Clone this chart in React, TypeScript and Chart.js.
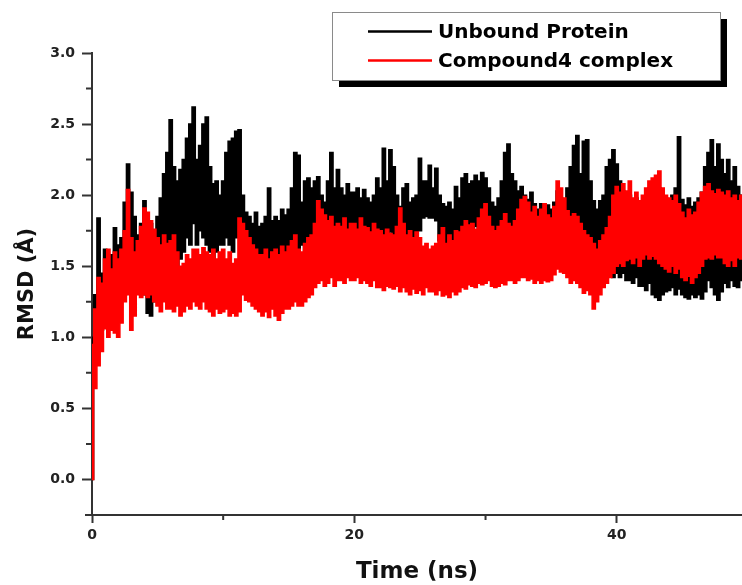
import React, { useEffect, useRef } from "react";
import { Chart, registerables } from "chart.js";

Chart.register(...registerables);

// ---- Data (envelope of each trajectory every 0.25 ns) ----
const SERIES_LABELS = ["Unbound Protein", "Compound4 complex"];
const SERIES_COLORS = ["#000000", "#ff0000"];
const TIME_STEP_NS = 0.25;

const X_TICK_STEP = 20;
const X_MINOR_TICKS = [10, 30, 50];
const Y_TICK_STEP = 0.5;
const Y_MINOR_TICKS = [0.25, 0.75, 1.25, 1.75, 2.25, 2.75];

// Unbound protein RMSD: upper / lower envelope (Å)
const UNBOUND_MAX = [
  1.0, 1.3, 1.84, 1.45, 1.62, 1.52, 1.58, 1.77, 1.65, 1.7, 1.95, 2.22, 2.02, 1.85, 1.72, 1.8, 1.96, 1.82, 1.8, 1.75,
  1.85, 1.98, 2.15, 2.3, 2.53, 2.2, 2.1, 2.18, 2.25, 2.4, 2.5, 2.62, 2.25, 2.35, 2.5, 2.55, 2.2, 2.08, 2.1, 2.0,
  2.1, 2.3, 2.38, 2.4, 2.45, 2.46, 2.0, 1.88, 1.85, 1.8, 1.88, 1.78, 1.8, 1.85, 2.05, 1.82, 1.85, 1.82, 1.9, 1.86,
  1.9, 2.05, 2.3, 2.28, 1.95, 2.1, 2.12, 2.05, 2.1, 2.13, 2.0, 1.95, 2.1, 2.3, 2.05, 2.18, 2.05, 2.0, 2.08, 2.02,
  2.02, 2.05, 1.98, 2.04, 1.98, 1.95, 2.0, 2.12, 2.05, 2.33, 2.1, 2.32, 2.2, 2.0, 1.92, 2.05, 2.08, 1.95, 1.98, 2.0,
  2.26, 2.1, 2.1, 2.21, 2.05, 2.19, 2.0, 1.94, 1.92, 1.95, 1.9, 2.06, 1.98, 2.12, 2.15, 2.08, 2.1, 2.14, 2.1, 2.16,
  2.12, 2.05, 1.95, 1.92, 1.98, 2.1, 2.3, 2.36, 2.15, 2.1, 2.03, 2.06, 2.0, 1.97, 2.02, 1.94, 1.9, 1.94, 1.89, 1.93,
  1.9, 1.95, 2.03, 1.98, 1.95, 2.05, 2.2, 2.35, 2.42, 2.15, 2.38, 2.39, 2.1, 1.96, 1.9, 1.96, 2.0, 2.2, 2.25, 2.32,
  2.22, 2.1, 2.03, 1.98, 2.0, 1.95, 1.98, 1.92, 1.95, 1.9, 1.96, 1.92, 2.0, 2.05, 1.95, 1.98, 1.95, 2.0, 2.05, 2.41,
  1.97, 1.93, 1.98, 1.92, 1.95, 1.98, 2.02, 2.2, 2.3, 2.39, 2.2, 2.36, 2.25, 2.15, 2.25, 2.1, 2.2, 2.06, 2.0, 2.05,
];
const UNBOUND_MIN = [
  0.0, 0.95, 1.05, 1.05, 1.1, 1.15, 1.2, 1.35, 1.3, 1.35, 1.3, 1.35, 1.35, 1.3, 1.4, 1.3, 1.3, 1.17, 1.15, 1.25,
  1.4, 1.5, 1.55, 1.55, 1.6, 1.55, 1.45, 1.55, 1.6, 1.7, 1.65, 1.8, 1.65, 1.75, 1.7, 1.65, 1.6, 1.55, 1.6, 1.65,
  1.65, 1.7, 1.65, 1.6, 1.7, 1.75, 1.55, 1.5, 1.45, 1.5, 1.42, 1.48, 1.45, 1.42, 1.5, 1.48, 1.5, 1.52, 1.48, 1.55,
  1.55, 1.6, 1.65, 1.6, 1.65, 1.6, 1.7, 1.65, 1.6, 1.65, 1.7, 1.68, 1.7, 1.65, 1.72, 1.68, 1.7, 1.75, 1.72, 1.7,
  1.72, 1.75, 1.7, 1.74, 1.72, 1.7, 1.68, 1.72, 1.7, 1.72, 1.68, 1.74, 1.72, 1.7, 1.74, 1.68, 1.7, 1.72, 1.68, 1.72,
  1.75, 1.84, 1.85, 1.84, 1.84, 1.82, 1.68, 1.65, 1.66, 1.64, 1.68, 1.65, 1.7, 1.75, 1.72, 1.78, 1.75, 1.78, 1.74, 1.76,
  1.72, 1.75, 1.7, 1.68, 1.72, 1.7, 1.74, 1.78, 1.75, 1.72, 1.7, 1.74, 1.72, 1.7, 1.68, 1.66, 1.65, 1.64, 1.66, 1.63,
  1.64, 1.66, 1.7, 1.68, 1.62, 1.6, 1.64, 1.62, 1.62, 1.6, 1.59, 1.62, 1.6, 1.58, 1.56, 1.58, 1.58, 1.55, 1.5, 1.42,
  1.45, 1.42, 1.45, 1.4, 1.4, 1.38, 1.42, 1.36, 1.36, 1.33, 1.38, 1.3, 1.28, 1.26, 1.3, 1.32, 1.33, 1.35, 1.3, 1.34,
  1.3, 1.28, 1.27, 1.3, 1.28, 1.3, 1.27, 1.32, 1.4, 1.35, 1.3, 1.26, 1.32, 1.38, 1.35, 1.4, 1.36, 1.35, 1.4, 1.38,
];

// Compound4 complex RMSD: upper / lower envelope (Å)
const COMPLEX_MAX = [
  0.95, 1.2, 1.42, 1.38, 1.55, 1.62, 1.48, 1.6, 1.55, 1.62, 1.75, 2.04, 1.7, 1.6, 1.68, 1.78, 1.91, 1.88, 1.82, 1.76,
  1.7, 1.65, 1.72, 1.66, 1.68, 1.72, 1.6, 1.5, 1.52, 1.58, 1.55, 1.62, 1.62, 1.58, 1.63, 1.6, 1.58, 1.62, 1.55, 1.6,
  1.62, 1.55, 1.6, 1.52, 1.55, 1.84, 1.8, 1.75, 1.7, 1.65, 1.62, 1.58, 1.58, 1.62, 1.55, 1.6, 1.62, 1.58, 1.64, 1.6,
  1.64, 1.68, 1.72, 1.62, 1.6, 1.66, 1.7, 1.72, 1.8, 1.96, 1.9, 1.86, 1.82, 1.85, 1.78, 1.8, 1.78, 1.84, 1.76, 1.8,
  1.8, 1.76, 1.84, 1.78, 1.77, 1.74, 1.8, 1.76, 1.75, 1.72, 1.76, 1.73, 1.72, 1.78, 1.91, 1.8, 1.72, 1.75, 1.7, 1.74,
  1.7, 1.64, 1.66, 1.62, 1.64, 1.66, 1.72, 1.77, 1.66, 1.72, 1.68, 1.75, 1.74, 1.78, 1.82, 1.79, 1.8, 1.76, 1.84, 1.9,
  1.94, 1.85, 1.78, 1.75, 1.78, 1.82, 1.87, 1.8, 1.78, 1.82, 1.9, 1.97, 1.99, 1.95, 1.88, 1.92, 1.85, 1.9, 1.94, 1.86,
  1.84, 1.92, 2.1, 2.05, 1.98, 1.89, 1.85, 1.87, 1.85, 1.8, 1.75, 1.72, 1.7, 1.66, 1.62, 1.68, 1.72, 1.77, 1.85, 2.0,
  2.06, 2.02, 2.08, 2.03, 2.1, 1.98, 2.02, 1.96, 2.0, 2.05, 2.1, 2.12, 2.14, 2.17, 2.05, 2.0, 1.98, 1.96, 2.0, 1.94,
  1.88, 1.84, 1.9, 1.86, 1.88, 1.95, 2.02, 2.06, 2.08, 2.03, 2.01, 2.04, 2.02, 2.0, 2.03, 1.98, 2.0, 1.96, 2.0, 1.98,
];
const COMPLEX_MIN = [
  0.0, 0.64, 0.8, 0.9, 1.06, 1.0, 1.05, 1.03, 1.0, 1.1, 1.25, 1.3, 1.05, 1.15, 1.3, 1.28, 1.3, 1.28, 1.3, 1.25,
  1.22, 1.18, 1.25, 1.2, 1.2, 1.18, 1.22, 1.15, 1.18, 1.22, 1.2, 1.25, 1.22, 1.2, 1.25, 1.2, 1.18, 1.15, 1.2, 1.17,
  1.18, 1.2, 1.15, 1.17, 1.15, 1.18, 1.3, 1.26, 1.25, 1.22, 1.2, 1.18, 1.15, 1.18, 1.14, 1.2, 1.15, 1.12, 1.17, 1.2,
  1.2, 1.22, 1.25, 1.22, 1.22, 1.25, 1.28, 1.3, 1.35, 1.38, 1.4, 1.36, 1.38, 1.42, 1.36, 1.4, 1.4, 1.38, 1.42, 1.4,
  1.4, 1.42, 1.38, 1.4, 1.38, 1.36, 1.4, 1.35, 1.35, 1.33, 1.36, 1.35, 1.34, 1.36, 1.32, 1.35, 1.32, 1.3, 1.34, 1.31,
  1.33, 1.3, 1.35, 1.32, 1.32, 1.3, 1.33, 1.29, 1.3, 1.28, 1.32, 1.3, 1.32, 1.35, 1.34, 1.37, 1.36, 1.35, 1.38, 1.37,
  1.38, 1.4, 1.36, 1.35, 1.36, 1.38, 1.37, 1.4, 1.4, 1.38, 1.4, 1.42, 1.42, 1.4, 1.41, 1.38, 1.4, 1.38, 1.4, 1.39,
  1.4, 1.44, 1.48, 1.46, 1.45, 1.42, 1.38, 1.4, 1.38, 1.35, 1.31, 1.33, 1.3, 1.2, 1.25, 1.3, 1.35, 1.38, 1.42, 1.45,
  1.5, 1.52, 1.5, 1.54, 1.55, 1.52, 1.56, 1.5, 1.55, 1.58, 1.55, 1.57, 1.55, 1.52, 1.5, 1.48, 1.46, 1.5, 1.45, 1.48,
  1.42, 1.4, 1.43, 1.38, 1.42, 1.45, 1.5, 1.55, 1.56, 1.55, 1.58, 1.56, 1.56, 1.52, 1.5, 1.54, 1.5, 1.56, 1.55, 1.52,
];

const TIME_NS = UNBOUND_MAX.map((_, i) => i * TIME_STEP_NS);

const AXIS_COLOR = "#333333";
const FONT_FAMILY = "'DejaVu Sans', 'Liberation Sans', Arial, sans-serif";

const toPoints = (values: number[]) => values.map((v, i) => ({ x: TIME_NS[i], y: v }));

const axisDecorPlugin = {
  id: "axisDecor",
  afterDraw(chart: any) {
    const { ctx, chartArea, scales } = chart;
    const xs = scales.x;
    const ys = scales.y;
    ctx.save();
    ctx.strokeStyle = AXIS_COLOR;
    ctx.lineWidth = 2;
    ctx.beginPath();
    for (const v of Y_MINOR_TICKS) {
      const py = ys.getPixelForValue(v);
      ctx.moveTo(chartArea.left - 6, py);
      ctx.lineTo(chartArea.left, py);
    }
    for (const v of X_MINOR_TICKS) {
      if (v > xs.max) continue;
      const px = xs.getPixelForValue(v);
      ctx.moveTo(px, chartArea.bottom);
      ctx.lineTo(px, chartArea.bottom + 5);
    }
    ctx.moveTo(chartArea.left - 7, chartArea.bottom);
    ctx.lineTo(chartArea.left, chartArea.bottom);
    ctx.stroke();
    ctx.restore();
  },
};

const boxedLegendPlugin = {
  id: "boxedLegend",
  afterDraw(chart: any) {
    const { ctx } = chart;
    const left = 332;
    const top = 12;
    const width = 388;
    const height = 68;
    const shadow = 7;
    ctx.save();
    ctx.fillStyle = "#000000";
    ctx.fillRect(left + shadow, top + shadow, width, height);
    ctx.fillStyle = "#ffffff";
    ctx.fillRect(left, top, width, height);
    ctx.strokeStyle = "#8a8a8a";
    ctx.lineWidth = 1;
    ctx.strokeRect(left + 0.5, top + 0.5, width, height);
    const rows = [31.5, 60.5];
    SERIES_LABELS.forEach((label, i) => {
      const y = rows[i];
      ctx.strokeStyle = SERIES_COLORS[i];
      ctx.lineWidth = 2.5;
      ctx.beginPath();
      ctx.moveTo(368, y);
      ctx.lineTo(432, y);
      ctx.stroke();
      ctx.fillStyle = "#000000";
      ctx.font = `bold 20px ${FONT_FAMILY}`;
      ctx.textAlign = "left";
      ctx.textBaseline = "middle";
      ctx.fillText(label, 438, y + 1);
    });
    ctx.restore();
  },
};

export default function App() {
  const canvasRef = useRef<HTMLCanvasElement | null>(null);

  useEffect(() => {
    const canvas = canvasRef.current;
    if (!canvas) return;
    const [black, red] = SERIES_COLORS;
    const band = (values: number[], color: string, fill: any, order: number, label: string) => ({
      label,
      data: toPoints(values),
      borderColor: color,
      backgroundColor: color,
      borderWidth: 1.5,
      pointRadius: 0,
      tension: 0,
      stepped: "middle",
      fill,
      order,
    });
    const chart = new Chart(canvas, {
      type: "line",
      data: {
        datasets: [
          band(COMPLEX_MAX, red, "+1", 0, SERIES_LABELS[1]),
          band(COMPLEX_MIN, red, false, 1, SERIES_LABELS[1] + " (min)"),
          band(UNBOUND_MAX, black, "+1", 2, SERIES_LABELS[0]),
          band(UNBOUND_MIN, black, false, 3, SERIES_LABELS[0] + " (min)"),
        ],
      },
      options: {
        animation: false,
        responsive: true,
        maintainAspectRatio: false,
        devicePixelRatio: 1,
        events: [],
        layout: { padding: { left: 0, right: 0, top: 53, bottom: 0 } },
        plugins: {
          legend: { display: false },
          tooltip: { enabled: false },
        },
        scales: {
          x: {
            type: "linear",
            min: 0,
            max: 49.55,
            afterFit: (s: any) => {
              s.height = 70;
            },
            ticks: {
              stepSize: X_TICK_STEP,
              includeBounds: false,
              padding: 4,
              color: "#222222",
              font: { family: FONT_FAMILY, size: 14, weight: "bold" },
              callback: (v: any) => String(v),
            },
            grid: {
              drawOnChartArea: false,
              drawTicks: true,
              tickLength: 8,
              tickWidth: 2,
              tickColor: AXIS_COLOR,
            },
            border: { display: true, color: AXIS_COLOR, width: 2 },
            title: {
              display: true,
              text: "Time (ns)",
              color: "#111111",
              font: { family: FONT_FAMILY, size: 23, weight: "bold" },
              padding: { top: 0, bottom: -1 },
            },
          },
          y: {
            type: "linear",
            min: -0.25,
            max: 3.0,
            afterFit: (s: any) => {
              s.width = 92;
            },
            ticks: {
              stepSize: Y_TICK_STEP,
              includeBounds: false,
              padding: 7,
              color: "#222222",
              font: { family: FONT_FAMILY, size: 14, weight: "bold" },
              callback: (v: any) => Number(v).toFixed(1),
            },
            grid: {
              drawOnChartArea: false,
              drawTicks: true,
              tickLength: 10,
              tickWidth: 2,
              tickColor: AXIS_COLOR,
            },
            border: { display: true, color: AXIS_COLOR, width: 2 },
            title: {
              display: true,
              text: "RMSD (Å)",
              color: "#111111",
              font: { family: FONT_FAMILY, size: 21, weight: "bold" },
              padding: { top: 15, bottom: 0 },
            },
          },
        },
      },
      plugins: [axisDecorPlugin, boxedLegendPlugin],
    } as any);
    return () => chart.destroy();
  }, []);

  return (
    <div style={{ position: "absolute", left: 0, top: 0, width: 742, height: 585, background: "#ffffff" }}>
      <canvas ref={canvasRef} />
    </div>
  );
}
